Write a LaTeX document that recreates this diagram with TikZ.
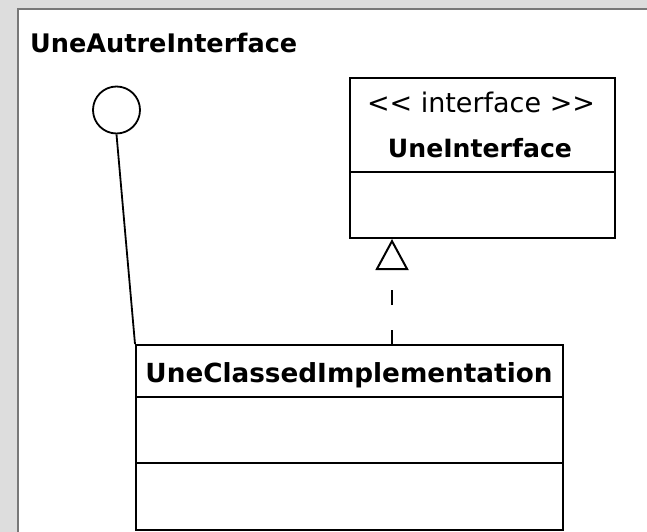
\documentclass[tikz,border=0pt]{standalone}
\usepackage{fontspec}
\setmainfont{DejaVu Sans}
\usetikzlibrary{arrows.meta}
\definecolor{bgcol}{RGB}{221,221,221}
\definecolor{framecol}{RGB}{120,120,120}
\begin{document}
\begin{tikzpicture}[x=1pt,y=-1pt,
  umlbox/.style={draw, line width=2pt, rectangle, inner sep=0pt},
  divider/.style={line width=2pt},
  lbl/.style={inner sep=0pt, anchor=base},
  lolli/.style={draw, circle, line width=1.8pt, inner sep=0pt, minimum size=47pt},
  linkline/.style={line width=1.8pt},
  realize/.style={line width=2pt, dash pattern=on 15pt off 25pt,
    -{Triangle[open, length=31pt, width=33pt, line width=2pt]}}]
\useasboundingbox (0,0) rectangle (647,532);
\fill[bgcol] (0,0) rectangle (647,532);
\fill[white] (18,9) rectangle (647,532);
\draw[framecol, line width=1.5pt] (18,532) -- (18,9) -- (647,9);
% interface box
\node[umlbox, minimum width=265pt, minimum height=160pt] (iface) at (482.5,158) {};
\draw[divider] (350,172) -- (615,172);
\node[lbl] (stereo) at (481,113) {\resizebox{228pt}{!}{{<}{<} interface {>}{>}}};
\node[lbl] (ifname) at (480,157) {\resizebox{184pt}{!}{\bfseries UneInterface}};
% class box
\node[umlbox, minimum width=427pt, minimum height=185pt] (impl) at (349.5,437.5) {};
\draw[divider] (136,397) -- (563,397);
\draw[divider] (136,463) -- (563,463);
\node[lbl] (implname) at (349,382) {\resizebox{407pt}{!}{\bfseries UneClassedImplementation}};
% lollipop
\node[lbl, anchor=base west] (autre) at (30,53) {\resizebox{267pt}{!}{\bfseries UneAutreInterface}};
\node[lolli] (lolli) at (116.5,110) {};
\draw[linkline] (lolli.south) -- (impl.north west);
% realization
\coordinate (rs) at (392,345);
\draw[realize] (rs) -- (rs |- iface.south);
\end{tikzpicture}
\end{document}
